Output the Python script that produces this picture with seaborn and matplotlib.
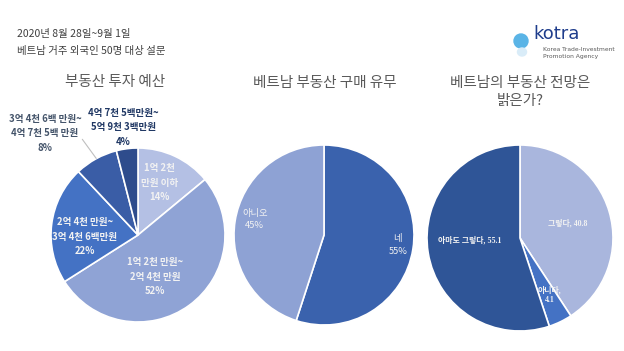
import matplotlib
matplotlib.use("Agg")
import matplotlib.pyplot as plt
from matplotlib.patches import Ellipse
import seaborn as sns

sns.set_theme(style="white")
plt.rcParams["font.family"] = ["Noto Sans CJK KR", "DejaVu Sans"]

# data
budget_labels = ["1억 2천\n만원 이하", "1억 2천 만원~\n2억 4천 만원", "2억 4천 만원~\n3억 4천 6백만원",
                 "3억 4천 6백 만원~\n4억 7천 5백 만원", "4억 7천 5백만원~\n5억 9천 3백만원"]
budget_pct = [14, 52, 22, 8, 4]
budget_colors = ["#b4c0e4", "#8fa3d5", "#4472c4", "#3a5da6", "#2e4c8c"]

buy_labels = ["네", "아니오"]
buy_pct = [55, 45]
buy_colors = ["#3a62ad", "#8ea2d4"]

outlook_labels = ["그렇다", "아니다", "아마도 그렇다"]
outlook_vals = [40.8, 4.1, 55.1]
outlook_colors = ["#a9b6dd", "#4472c4", "#2f5597"]

W, H = 624, 351
fig = plt.figure(figsize=(W / 100, H / 100), dpi=100)
fig.patch.set_facecolor("white")


def pie_axes(cx, cy, r):
    ax = fig.add_axes([(cx - r) / W, (H - cy - r) / H, 2 * r / W, 2 * r / H])
    ax.axis("off")
    return ax


def fix_limits(ax):
    ax.set_xlim(-1, 1)
    ax.set_ylim(-1, 1)
    ax.set_aspect("auto")


wedge_kw = dict(edgecolor="white", linewidth=1.2)

# pie 1: budget
ax1 = pie_axes(138, 235, 87)
ax1.pie(budget_pct, colors=budget_colors, startangle=90, counterclock=False,
        radius=1, wedgeprops=wedge_kw)
fix_limits(ax1)
pos1 = [(0.25, 0.60), (0.20, -0.48), (-0.61, -0.02), (-1.07, 1.17), (-0.17, 1.24)]
tcol1 = ["#f2f2f2", "#f2f2f2", "#f2f2f2", "#44546a", "#203864"]
for lab, p, (x, y), c in zip(budget_labels, budget_pct, pos1, tcol1):
    ax1.text(x, y, f"{lab}\n{p}%", ha="center", va="center", fontsize=6.9,
             color=c, fontweight="bold", linespacing=1.55, clip_on=False)
ax1.plot([-0.64, -0.48], [1.10, 0.88], color="#bfbfbf", lw=0.8, clip_on=False)

# pie 2: purchase
ax2 = pie_axes(324, 235, 90)
ax2.pie(buy_pct, colors=buy_colors, startangle=90, counterclock=False,
        radius=1, wedgeprops=wedge_kw)
fix_limits(ax2)
pos2 = [(0.82, -0.11), (-0.77, 0.17)]
for lab, p, (x, y) in zip(buy_labels, buy_pct, pos2):
    ax2.text(x, y, f"{lab}\n{p}%", ha="center", va="center", fontsize=6.7,
             color="#f2f2f2", linespacing=1.5)

# pie 3: outlook
ax3 = pie_axes(520, 238, 93)
ax3.pie(outlook_vals, colors=outlook_colors, startangle=90, counterclock=False,
        radius=1, wedgeprops=wedge_kw)
fix_limits(ax3)
pos3 = [(0.51, 0.16), (0.32, -0.61), (-0.54, -0.02)]
fmt3 = ["{}, {}", "{},\n{}", "{}, {}"]
for lab, v, (x, y), f in zip(outlook_labels, outlook_vals, pos3, fmt3):
    ax3.text(x, y, f.format(lab, v), ha="center", va="center", fontsize=5.7,
             color="#f2f2f2", fontweight="bold", linespacing=1.3,
             family=["Liberation Serif", "Noto Sans CJK KR"])

# titles
title_kw = dict(ha="center", va="center", fontsize=10.5, color="#595959")
fig.text(115 / W, 1 - 82 / H, "부동산 투자 예산", **title_kw)
fig.text(325 / W, 1 - 83 / H, "베트남 부동산 구매 유무", **title_kw)
fig.text(520 / W, 1 - 92 / H, "베트남의 부동산 전망은\n밝은가?", linespacing=1.35, **title_kw)

# header
fig.text(17 / W, 1 - 34 / H, "2020년 8월 28일~9월 1일", fontsize=7.5, color="#404040",
         va="center")
fig.text(17 / W, 1 - 51 / H, "베트남 거주 외국인 50명 대상 설문", fontsize=7.5,
         color="#404040", va="center")

# logo
fig.patches.append(Ellipse((521 / W, 1 - 41 / H), 14 / W, 14 / H, transform=fig.transFigure,
                           color="#5ab4e6", figure=fig))
fig.patches.append(Ellipse((522 / W, 1 - 52 / H), 9 / W, 8 / H, transform=fig.transFigure,
                           color="#d9ecf8", figure=fig))
fig.text(533 / W, 1 - 34 / H, "kotra", fontsize=13, color="#1f3d8c", va="center",
         family=["DejaVu Sans"])
fig.text(543 / W, 1 - 53 / H, "Korea Trade-Investment\nPromotion Agency", fontsize=4.3,
         color="#595959", va="center", linespacing=1.3, family=["DejaVu Sans"])

fig.savefig("out.png", dpi=100, facecolor="white")
